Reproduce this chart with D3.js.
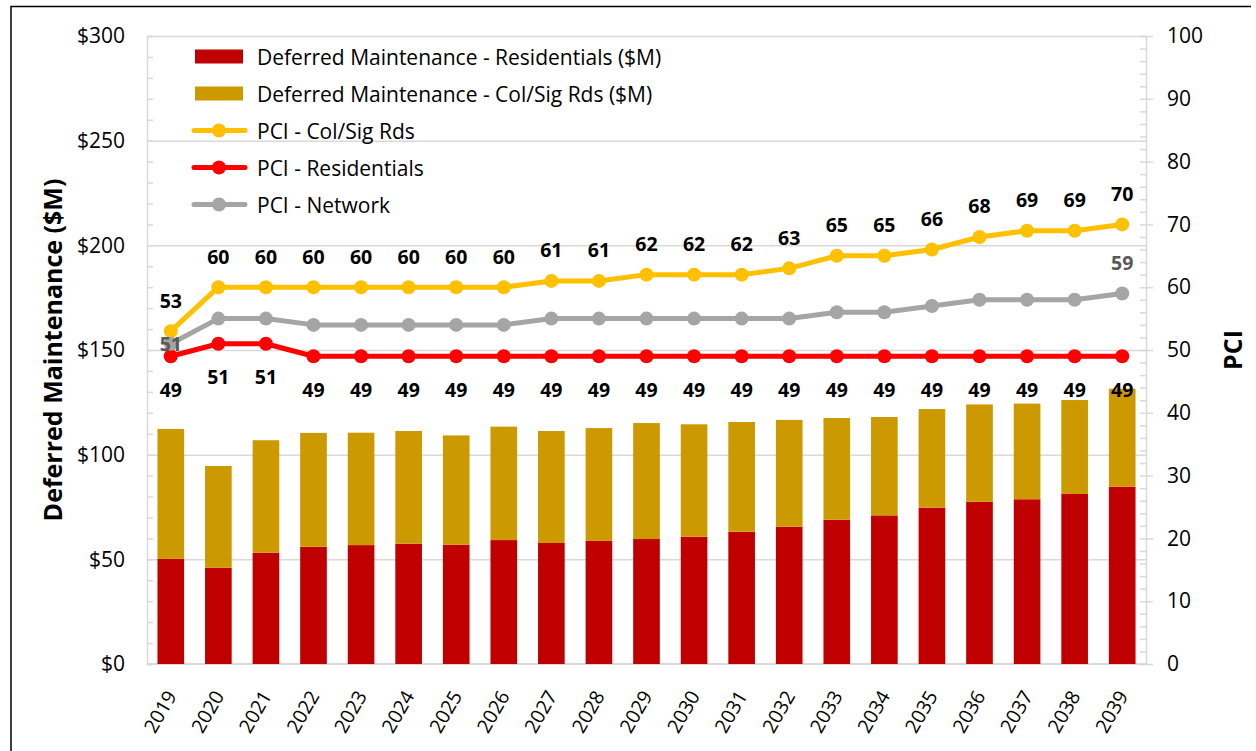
<!DOCTYPE html>
<html>
<head>
<meta charset="utf-8">
<script src="https://cdn.jsdelivr.net/npm/d3@7"></script>
<style>
	body { margin: 0; background: #fff; }
	text { font-family: 'Open Sans', Lato, sans-serif; }
</style>
</head>
<body>
<div id="chart"></div>
<script>
const years = d3.range(2019, 2040).map(String)

// $M
const residentialDM = [50.2, 46.0, 53.2, 56.0, 56.8, 57.5, 57.0, 59.2, 57.8, 58.8, 59.7,
	60.8, 63.2, 65.6, 68.9, 71.0, 74.7, 77.5, 78.7, 81.2, 84.7]
const colSigDM = [62.1, 48.6, 53.7, 54.4, 53.7, 53.8, 52.2, 54.2, 53.5, 53.9, 55.4,
	53.7, 52.4, 51.0, 48.6, 47.0, 47.1, 46.5, 45.7, 44.9, 46.8]

const pciColSig = [53, 60, 60, 60, 60, 60, 60, 60, 61, 61, 62, 62, 62, 63, 65, 65, 66, 68, 69, 69, 70]
const pciResidential = [49, 51, 51, 49, 49, 49, 49, 49, 49, 49, 49, 49, 49, 49, 49, 49, 49, 49, 49, 49, 49]
const pciNetwork = [51, 55, 55, 54, 54, 54, 54, 54, 55, 55, 55, 55, 55, 55, 56, 56, 57, 58, 58, 58, 59]

const dollarTicks = d3.range(0, 301, 50)
const pciTicks = d3.range(0, 101, 10)

const fullWidth = 1256
const fullHeight = 751
const plot = {left: 147, right: 1146, top: 36, bottom: 664}
const gridColor = '#d9d9d9'
const font = "'Open Sans', Lato, sans-serif"

const svg = d3
	.select('#chart')
	.append('svg')
	.attr('width', fullWidth)
	.attr('height', fullHeight)
	.style('display', 'block')

// outer frame (only top & left edges fall inside the picture)
svg.append('path')
	.attr('d', `M11,${fullHeight} V6.5 H1251`)
	.attr('fill', 'none')
	.attr('stroke', '#000')
	.attr('stroke-width', 1.5)

const x = d3
	.scaleBand()
	.domain(years)
	.range([plot.left, plot.right])
	.paddingInner(0.44)
	.paddingOuter(0.22)
const yLeft = d3.scaleLinear().domain([0, 300]).range([plot.bottom, plot.top])
const yRight = d3.scaleLinear().domain([0, 100]).range([plot.bottom, plot.top])
const cx = (i) => x(years[i]) + x.bandwidth() / 2

// gridlines
svg.append('g')
	.attr('transform', `translate(${plot.left},0)`)
	.call(d3.axisRight(yLeft).tickValues(dollarTicks.slice(1)).tickSize(plot.right - plot.left).tickFormat(''))
	.call((g) => g.select('.domain').remove())
	.call((g) => g.selectAll('line').attr('stroke', gridColor).attr('stroke-width', 1.5))

// left axis
svg.append('g')
	.attr('transform', `translate(${plot.left},0)`)
	.call(d3.axisRight(yLeft).tickValues(d3.range(0, 301, 10)).tickSize(6).tickFormat(''))
	.call((g) => g.selectAll('line').attr('stroke', gridColor).attr('stroke-width', 1.5))
	.call((g) => g.select('.domain').attr('stroke', gridColor).attr('stroke-width', 1.5))
svg.append('g')
	.attr('transform', `translate(${plot.left},0)`)
	.call(d3.axisLeft(yLeft).tickValues(dollarTicks).tickSize(0).tickPadding(22).tickFormat((d) => '$' + d))
	.call((g) => g.select('.domain').remove())
	.call((g) => g.selectAll('text').attr('font-size', 21).attr('fill', '#000').attr('font-family', font))

// right axis
svg.append('g')
	.attr('transform', `translate(${plot.right},0)`)
	.call(d3.axisLeft(yRight).tickValues(d3.range(0, 101, 2)).tickSize(6).tickFormat(''))
	.call((g) => g.selectAll('line').attr('stroke', gridColor).attr('stroke-width', 1.5))
	.call((g) => g.select('.domain').attr('stroke', gridColor).attr('stroke-width', 1.5))
svg.append('g')
	.attr('transform', `translate(${plot.right},0)`)
	.call(d3.axisRight(yRight).tickValues(pciTicks).tickSize(7).tickPadding(14))
	.call((g) => g.select('.domain').remove())
	.call((g) => g.selectAll('line').attr('stroke', gridColor).attr('stroke-width', 1.5))
	.call((g) => g.selectAll('text').attr('font-size', 21).attr('fill', '#000').attr('font-family', font))

// bottom axis
svg.append('line')
	.attr('x1', plot.left)
	.attr('x2', plot.right)
	.attr('y1', plot.bottom)
	.attr('y2', plot.bottom)
	.attr('stroke', gridColor)
	.attr('stroke-width', 2)

svg.append('g')
	.selectAll('text')
	.data(years)
	.join('text')
	.attr('transform', (d) => `translate(${x(d) + x.bandwidth() / 2},692) rotate(-60)`)
	.attr('text-anchor', 'end')
	.attr('dominant-baseline', 'central')
	.attr('font-size', 19.5)
	.attr('fill', '#000')
	.text((d) => d)

// stacked bars
const barRows = years.map((year, i) => ({year, residential: residentialDM[i], colSig: colSigDM[i]}))
const stacked = d3.stack().keys(['residential', 'colSig'])(barRows)
const barColors = {residential: '#c00000', colSig: '#cc9a00'}

svg.append('g')
	.selectAll('g')
	.data(stacked)
	.join('g')
	.attr('fill', (s) => barColors[s.key])
	.selectAll('rect')
	.data((s) => s)
	.join('rect')
	.attr('x', (d) => x(d.data.year))
	.attr('width', x.bandwidth())
	.attr('y', (d) => yLeft(d[1]))
	.attr('height', (d) => yLeft(d[0]) - yLeft(d[1]))

// PCI lines
const pciSeries = [
	{name: 'PCI - Col/Sig Rds', values: pciColSig, color: '#ffc000'},
	{name: 'PCI - Residentials', values: pciResidential, color: '#ff0000'},
	{name: 'PCI - Network', values: pciNetwork, color: '#a5a5a5'},
]
const line = d3
	.line()
	.x((d, i) => cx(i))
	.y((d) => yRight(d))

pciSeries.forEach((s) => {
	const g = svg.append('g')
	g.append('path')
		.attr('d', line(s.values))
		.attr('fill', 'none')
		.attr('stroke', s.color)
		.attr('stroke-width', 5)
		.attr('stroke-linejoin', 'round')
	g.selectAll('circle')
		.data(s.values)
		.join('circle')
		.attr('cx', (d, i) => cx(i))
		.attr('cy', (d) => yRight(d))
		.attr('r', 7)
		.attr('fill', s.color)
})

// data labels
function dataLabels(rows, color) {
	svg.append('g')
		.selectAll('text')
		.data(rows)
		.join('text')
		.attr('x', (d) => cx(d.i))
		.attr('y', (d) => yRight(d.v) + d.dy)
		.attr('text-anchor', 'middle')
		.attr('dominant-baseline', 'central')
		.attr('font-size', 19.5)
		.attr('font-weight', 'bold')
		.attr('fill', color)
		.text((d) => d.v)
}
dataLabels(pciColSig.map((v, i) => ({i, v, dy: -31})), '#000')
dataLabels(pciResidential.map((v, i) => ({i, v, dy: 33})), '#000')
const netLast = pciNetwork.length - 1
dataLabels([
	{i: 0, v: pciNetwork[0], dy: 0},
	{i: netLast, v: pciNetwork[netLast], dy: -31},
], '#595959')

// axis titles
svg.append('text')
	.attr('transform', `translate(52,350) rotate(-90)`)
	.attr('text-anchor', 'middle')
	.attr('dominant-baseline', 'central')
	.attr('font-size', 25)
	.attr('font-weight', 'bold')
	.text('Deferred Maintenance ($M)')
svg.append('text')
	.attr('transform', `translate(1232,350) rotate(-90)`)
	.attr('text-anchor', 'middle')
	.attr('dominant-baseline', 'central')
	.attr('font-size', 25)
	.attr('font-weight', 'bold')
	.text('PCI')

// legend
const legendItems = [
	{name: 'Deferred Maintenance - Residentials ($M)', type: 'bar', color: barColors.residential},
	{name: 'Deferred Maintenance - Col/Sig Rds ($M)', type: 'bar', color: barColors.colSig},
	...pciSeries.map((s) => ({name: s.name, type: 'line', color: s.color})),
]
const legend = svg.append('g').attr('transform', 'translate(195,56.5)')
const item = legend
	.selectAll('g')
	.data(legendItems)
	.join('g')
	.attr('transform', (d, i) => `translate(0,${i * 37})`)
item.filter((d) => d.type === 'bar')
	.append('rect')
	.attr('x', 0)
	.attr('y', -7)
	.attr('width', 48)
	.attr('height', 14)
	.attr('fill', (d) => d.color)
const lineItem = item.filter((d) => d.type === 'line')
lineItem.append('line')
	.attr('x1', -1)
	.attr('x2', 50)
	.attr('stroke', (d) => d.color)
	.attr('stroke-width', 5)
	.attr('stroke-linecap', 'round')
lineItem.append('circle')
	.attr('cx', 24)
	.attr('r', 7)
	.attr('fill', (d) => d.color)
item.append('text')
	.attr('x', 62)
	.attr('dominant-baseline', 'central')
	.attr('font-size', 21)
	.attr('fill', '#000')
	.text((d) => d.name)
</script>
</body>
</html>
